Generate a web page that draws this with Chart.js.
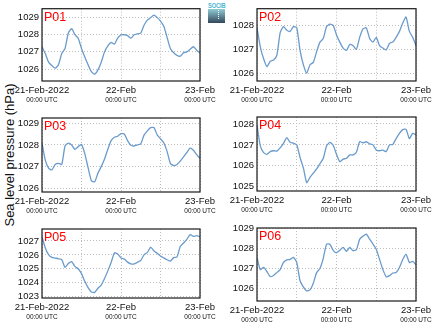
<!DOCTYPE html>
<html>
<head>
<meta charset="utf-8">
<script src="https://cdn.jsdelivr.net/npm/chart.js@4.4.1/dist/chart.umd.min.js"></script>
<style>
    html, body { margin: 0; padding: 0; background: #fff; }
    #wrap { position: relative; width: 434px; height: 327px; overflow: hidden; font-family: 'Liberation Sans', Arial, sans-serif; }
    #wrap canvas { position: absolute; left: 0; top: 0; }
    #ylab { position: absolute; left: 9px; top: 155px; transform: translate(-50%, -50%) rotate(-90deg); font-size: 13px; white-space: nowrap; color: #111; }
    #logo { position: absolute; left: 208px; top: 2px; width: 17px; }
    #logo span { display: block; font-size: 8px; line-height: 7px; color: #4cb5cf; font-weight: bold; transform: scaleX(0.72); transform-origin: left; letter-spacing: -0.2px; }
    #logo div { height: 14px; background: linear-gradient(#8fcbd6, #33475a); position: relative; }
    #logo div::after { content: ''; position: absolute; left: 10px; top: 1px; height: 9px; border-left: 1px dotted #fff; }
</style>
</head>
<body>
<div id="wrap">
    <div id="ylab">Sea level pressure (hPa)</div>
    <div id="logo"><span>SOCIB</span><div></div></div>
</div>
<script>
// ── Données (heures depuis 21-Feb-2022 00:00 UTC) ───────────
const HOURS = [0, 1, 2, 3, 4, 5, 6, 7, 8, 9, 10, 11, 12, 13, 14, 15, 16, 17, 18, 19, 20, 21, 22, 23, 24,
    25, 26, 27, 28, 29, 30, 31, 32, 33, 34, 35, 36, 37, 38, 39, 40, 41, 42, 43, 44, 45, 46, 47, 48];

const P01 = [1027.3, 1026.9, 1026.4, 1026.2, 1026.05, 1026.25, 1026.9, 1027.2, 1028.1, 1028.35, 1028.0, 1027.8, 1027.2,
    1026.7, 1026.25, 1025.85, 1025.7, 1025.95, 1026.4, 1027.0, 1027.35, 1027.55, 1027.45, 1027.8, 1028.0,
    1028.0, 1027.95, 1027.8, 1028.0, 1028.05, 1028.1, 1028.55, 1028.85, 1029.0, 1029.15, 1029.0, 1028.8,
    1028.5, 1027.85, 1027.2, 1026.95, 1026.8, 1026.75, 1026.95, 1027.0, 1027.15, 1027.3, 1027.1, 1026.95];
const P02 = [1027.9, 1027.1, 1026.6, 1026.27, 1026.5, 1026.55, 1026.75, 1027.7, 1027.95, 1027.8, 1027.75, 1027.95, 1027.9,
    1026.95, 1026.35, 1026.0, 1026.35, 1026.45, 1026.9, 1027.3, 1027.45, 1027.95, 1028.05, 1028.0, 1027.6,
    1027.3, 1027.05, 1026.95, 1027.2, 1027.15, 1027.0, 1027.5, 1027.85, 1027.9, 1027.45, 1027.3, 1027.5,
    1027.15, 1027.05, 1026.97, 1027.25, 1027.3, 1027.5, 1027.75, 1028.1, 1028.35, 1027.75, 1027.5, 1027.15];
const P03 = [1028.08, 1027.3, 1026.93, 1026.85, 1027.1, 1027.15, 1027.1, 1027.95, 1028.08, 1028.0, 1027.8, 1027.92, 1028.02,
    1027.6, 1026.95, 1026.35, 1026.3, 1026.7, 1027.0, 1027.35, 1027.8, 1028.2, 1028.35, 1028.4, 1028.52,
    1028.5, 1028.2, 1027.98, 1027.95, 1028.0, 1028.05, 1028.45, 1028.65, 1028.8, 1028.8, 1028.46, 1028.28,
    1028.1, 1027.7, 1027.15, 1027.05, 1027.1, 1027.25, 1027.45, 1027.65, 1027.85, 1027.75, 1027.55, 1027.38];
const P04 = [1027.95, 1026.95, 1026.63, 1026.55, 1026.68, 1026.72, 1026.7, 1026.86, 1027.07, 1027.35, 1027.12, 1027.08, 1027.0,
    1026.4, 1025.9, 1025.2, 1025.45, 1025.65, 1025.85, 1026.1, 1026.35, 1026.95, 1027.12, 1026.98, 1026.55,
    1026.2, 1026.32, 1026.36, 1026.52, 1026.52, 1026.65, 1027.15, 1027.1, 1027.15, 1027.05, 1027.0, 1026.76,
    1026.72, 1026.75, 1026.68, 1027.0, 1027.02, 1027.3, 1027.55, 1027.73, 1027.74, 1027.3, 1027.55, 1027.47];
const P05 = [1027.3, 1026.5, 1026.02, 1025.82, 1025.77, 1025.72, 1025.66, 1025.1, 1025.38, 1025.52, 1025.17, 1025.0, 1024.65,
    1024.1, 1023.65, 1023.33, 1023.3, 1023.6, 1023.83, 1024.3, 1024.85, 1025.45, 1026.15, 1026.07, 1025.78,
    1025.7, 1025.48, 1025.35, 1025.35, 1025.47, 1025.6, 1026.0, 1026.18, 1026.55, 1026.28, 1026.12, 1025.92,
    1025.78, 1025.65, 1025.55, 1025.8, 1025.85, 1026.6, 1026.85, 1027.12, 1027.45, 1027.33, 1027.38, 1027.3];
const P06 = [1027.55, 1026.95, 1027.06, 1026.85, 1026.6, 1026.66, 1026.8, 1026.95, 1027.3, 1027.43, 1027.45, 1027.55, 1027.3,
    1026.4, 1026.1, 1025.9, 1025.95, 1026.28, 1026.8, 1027.0, 1027.5, 1028.2, 1028.2, 1027.9, 1027.78,
    1027.9, 1028.04, 1027.85, 1028.04, 1027.88, 1027.93, 1028.45, 1028.6, 1028.7, 1028.45, 1028.21, 1027.95,
    1027.45, 1026.95, 1026.6, 1026.65, 1026.78, 1026.8, 1027.05, 1027.45, 1027.7, 1027.3, 1027.35, 1027.19];

const STATIONS = ['P01', 'P02', 'P03', 'P04', 'P05', 'P06'];
const SERIES = [P01, P02, P03, P04, P05, P06];
const Y_MIN = [1025.3, 1025.67, 1025.83, 1024.8, 1022.9, 1025.4];
const Y_MAX = [1029.52, 1028.7, 1029.24, 1028.33, 1027.86, 1029.0];

const DAY_TICKS = [0, 24, 48];
const DAY_LABELS = ['21-Feb-2022', '22-Feb', '23-Feb'];
const TIME_LABEL = '00:00 UTC';

// ── Mise en page des 6 panneaux (zone de tracé en px) ───────
const W = 434, H = 327, Y_AXIS_W = 36;
const AREAS = [
    { l: 42, t: 8, r: 200, b: 81 },
    { l: 257, t: 7, r: 416, b: 81 },
    { l: 42, t: 118, r: 200, b: 192 },
    { l: 257, t: 117, r: 416, b: 191 },
    { l: 42, t: 229, r: 200, b: 298 },
    { l: 257, t: 228, r: 416, b: 301 }
];
const FONT = "'Liberation Sans', Arial, sans-serif";

// ── Cadre, titre et étiquettes de l'axe x ───────────────────
const framePlugin = {
    id: 'frame',
    afterDraw(chart, args, opts) {
        const { ctx, chartArea: a, scales: { x } } = chart;
        ctx.save();
        ctx.strokeStyle = '#1a1a1a';
        ctx.lineWidth = 1.2;
        ctx.strokeRect(a.left, a.top, a.right - a.left, a.bottom - a.top);

        ctx.fillStyle = '#ff0000';
        ctx.font = '12.5px ' + FONT;
        ctx.textAlign = 'left';
        ctx.textBaseline = 'alphabetic';
        ctx.fillText(opts.name, a.left + 2, a.top + 12);

        ctx.fillStyle = '#111';
        ctx.textAlign = 'center';
        DAY_TICKS.forEach((h, i) => {
            const px = x.getPixelForValue(h);
            ctx.font = '9.5px ' + FONT;
            ctx.fillText(DAY_LABELS[i], px, a.bottom + 11.5);
            ctx.font = '6.5px ' + FONT;
            ctx.fillText(TIME_LABEL, px, a.bottom + 20.5);
        });
        ctx.restore();
    }
};

const wrap = document.getElementById('wrap');
const grid = { color: '#bdbdbd', lineWidth: 1, drawTicks: false };

SERIES.forEach((vals, i) => {
    const a = AREAS[i];
    const cv = document.createElement('canvas');
    cv.width = W;
    cv.height = H;
    wrap.appendChild(cv);

    new Chart(cv, {
        type: 'line',
        data: {
            datasets: [{
                data: HOURS.map((h, k) => ({ x: h, y: vals[k] })),
                borderColor: '#6a9bcb',
                borderWidth: 1.3,
                pointRadius: 0,
                tension: 0.2,
                fill: false
            }]
        },
        options: {
            responsive: false,
            animation: false,
            events: [],
            layout: { padding: { left: a.l - Y_AXIS_W, top: a.t, right: W - a.r, bottom: H - a.b } },
            plugins: { legend: { display: false }, tooltip: { enabled: false }, frame: { name: STATIONS[i] } },
            scales: {
                x: {
                    type: 'linear', min: 0, max: 48,
                    ticks: { stepSize: 12, display: false, includeBounds: false },
                    grid: grid,
                    border: { display: false, dash: [1, 2] },
                    afterFit: s => { s.height = 0; }
                },
                y: {
                    min: Y_MIN[i], max: Y_MAX[i],
                    ticks: {
                        stepSize: 1, includeBounds: false, padding: 3, color: '#111',
                        font: { size: 9.5, family: FONT },
                        callback: v => String(v)
                    },
                    grid: grid,
                    border: { display: false, dash: [1, 2] },
                    afterFit: s => { s.width = Y_AXIS_W; }
                }
            }
        },
        plugins: [framePlugin]
    });
});
</script>
</body>
</html>
